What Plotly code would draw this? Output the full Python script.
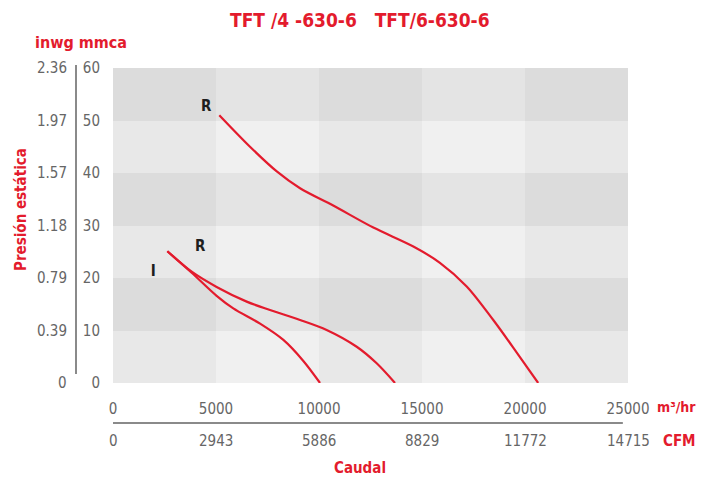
import plotly.graph_objects as go

# ---------------- data ----------------
title_text = "TFT /4 -630-6   TFT/6-630-6"
x_ticks_m3h = [0, 5000, 10000, 15000, 20000, 25000]
x_ticks_cfm = ["0", "2943", "5886", "8829", "11772", "14715"]
y_ticks_mmca = [0, 10, 20, 30, 40, 50, 60]
y_ticks_inwg = ["0", "0.39", "0.79", "1.18", "1.57", "1.97", "2.36"]

# curve "R" (upper, TFT/4)
r1_x = [5160, 6650, 7950, 9080, 10690, 12640, 14580, 15870, 17170, 18460, 19600, 20640]
r1_y = [51.0, 45.0, 40.3, 37.1, 33.8, 29.6, 26.0, 22.9, 18.4, 12.0, 5.8, 0.0]
# curve "R" (lower, TFT/6)
r2_x = [2640, 3820, 5030, 6490, 7620, 9080, 10370, 11830, 12800, 13690]
r2_y = [25.1, 21.2, 18.3, 15.5, 13.9, 12.0, 10.1, 6.9, 3.75, 0.0]
# curve "I" (TFT/6)
i_x = [2640, 3820, 5030, 5840, 7140, 8270, 9240, 10050]
i_y = [25.1, 21.0, 16.6, 14.2, 11.3, 8.2, 4.2, 0.0]

curve_labels = ["R", "R", "I"]
label_x = [4530, 4230, 1950]
label_y = [52.6, 25.9, 21.1]

RED = "#e31b2d"
GREY_TXT = "#666666"
FONT = "DejaVu Sans Condensed, Liberation Sans Narrow, sans-serif"

# checkerboard background (shade of each cell)
col_centers = [(x_ticks_m3h[i] + x_ticks_m3h[i + 1]) / 2 for i in range(len(x_ticks_m3h) - 1)]
row_centers = [(y_ticks_mmca[i] + y_ticks_mmca[i + 1]) / 2 for i in range(len(y_ticks_mmca) - 1)]
z = []
for ri in range(len(row_centers)):
    row_dark = 1 if ri % 2 == 1 else 0
    z.append([240 - 12 * row_dark - 8 * (1 if ci % 2 == 0 else 0) for ci in range(len(col_centers))])

fig = go.Figure()
fig.add_trace(go.Heatmap(
    x=col_centers, y=row_centers, z=z, zmin=0, zmax=255,
    colorscale=[[0, "rgb(0,0,0)"], [1, "rgb(255,255,255)"]],
    showscale=False, hoverinfo="skip",
))
for cx, cy in [(r1_x, r1_y), (r2_x, r2_y), (i_x, i_y)]:
    fig.add_trace(go.Scatter(x=cx, y=cy, mode="lines",
                             line=dict(color=RED, width=2.2, shape="spline", smoothing=0.9),
                             showlegend=False, hoverinfo="skip"))
fig.add_trace(go.Scatter(x=label_x, y=label_y, mode="text", text=curve_labels,
                         textfont=dict(family=FONT, size=15, color="#1e1e1e", weight="bold"),
                         showlegend=False, hoverinfo="skip"))

# the page body adds an 8px margin, so the figure is drawn 8px in from the window corner
OFF = 8
FIG_W, FIG_H = 716 - OFF, 483 - OFF
L, T, W, H = 113 - OFF, 68 - OFF, 515, 315


def px2paper_x(p):
    return (p - OFF - L) / W


def px2paper_y(p):
    return (T + H - (p - OFF)) / H


annotations = []
annotations.append(dict(text=title_text, x=px2paper_x(360), y=px2paper_y(20), xref="paper", yref="paper",
                        showarrow=False, font=dict(family=FONT, size=19, color=RED, weight="bold"),
                        xanchor="center", yanchor="middle"))
annotations.append(dict(text="inwg mmca", x=px2paper_x(33), y=px2paper_y(42), xref="paper", yref="paper",
                        showarrow=False, font=dict(family=FONT, size=16, color=RED, weight="bold"),
                        xanchor="left", yanchor="middle"))
annotations.append(dict(text="Presión estática", x=px2paper_x(21), y=px2paper_y(210), xref="paper", yref="paper",
                        showarrow=False, textangle=-90, font=dict(family=FONT, size=15, color=RED, weight="bold"),
                        xanchor="center", yanchor="middle"))
for v, lab in zip(y_ticks_mmca, y_ticks_inwg):
    annotations.append(dict(text=lab, x=px2paper_x(69), y=v, xref="paper", yref="y", showarrow=False,
                            font=dict(family=FONT, size=15, color=GREY_TXT), xanchor="right", yanchor="middle"))
for v, lab in zip(x_ticks_m3h, x_ticks_cfm):
    annotations.append(dict(text=lab, x=v, y=px2paper_y(441), xref="x", yref="paper", showarrow=False,
                            font=dict(family=FONT, size=15, color=GREY_TXT), xanchor="center", yanchor="middle"))
annotations.append(dict(text="m³/hr", x=px2paper_x(698), y=px2paper_y(407), xref="paper", yref="paper",
                        showarrow=False, font=dict(family=FONT, size=14, color=RED, weight="bold"),
                        xanchor="right", yanchor="middle"))
annotations.append(dict(text="CFM", x=px2paper_x(698), y=px2paper_y(441), xref="paper", yref="paper",
                        showarrow=False, font=dict(family=FONT, size=15, color=RED, weight="bold"),
                        xanchor="right", yanchor="middle"))
annotations.append(dict(text="Caudal", x=px2paper_x(360), y=px2paper_y(468), xref="paper", yref="paper",
                        showarrow=False, font=dict(family=FONT, size=15, color=RED, weight="bold"),
                        xanchor="center", yanchor="middle"))

shapes = [
    dict(type="line", xref="paper", yref="paper", x0=px2paper_x(76), x1=px2paper_x(76),
         y0=px2paper_y(65), y1=px2paper_y(374), line=dict(color="#8a8a8a", width=2)),
    dict(type="line", xref="x", yref="paper", x0=x_ticks_m3h[0], x1=x_ticks_m3h[-1] * 0.99,
         y0=px2paper_y(423), y1=px2paper_y(423), line=dict(color="#8a8a8a", width=2)),
]

fig.update_layout(
    width=FIG_W, height=FIG_H,
    margin=dict(l=L, r=FIG_W - L - W, t=T, b=FIG_H - T - H, autoexpand=False),
    paper_bgcolor="white", plot_bgcolor="white",
    annotations=annotations, shapes=shapes,
    showlegend=False,
    xaxis=dict(range=[0, 25000], tickvals=x_ticks_m3h, ticktext=[str(v) for v in x_ticks_m3h],
               showgrid=False, zeroline=False, showline=False, ticks="", automargin=False,
               tickfont=dict(family=FONT, size=15, color=GREY_TXT), ticklabelstandoff=15),
    yaxis=dict(range=[0, 60], tickvals=y_ticks_mmca, showgrid=False, zeroline=False, showline=False,
               ticks="", automargin=False, tickfont=dict(family=FONT, size=15, color=GREY_TXT),
               ticklabelstandoff=12),
)

fig.write_html("out.html")
